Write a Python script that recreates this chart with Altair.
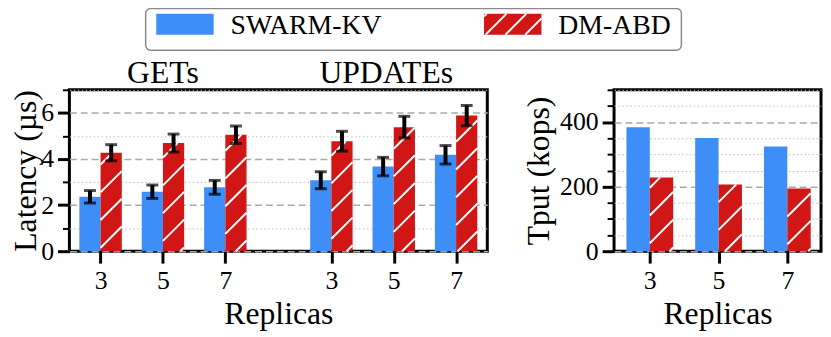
import altair as alt
import pandas as pd
import numpy as np

# ---------------- data ----------------
REPLICAS = [3, 5, 7]
SERIES = ["SWARM-KV", "DM-ABD"]
COLORS = ["#3d8ef7", "#d11616"]
OPS = ["GETs", "UPDATEs"]

GET_SWARM = [2.36, 2.58, 2.77]
GET_SWARM_ERR = [0.27, 0.29, 0.30]
GET_DM = [4.27, 4.69, 5.05]
GET_DM_ERR = [0.35, 0.39, 0.38]
UPD_SWARM = [3.08, 3.67, 4.18]
UPD_SWARM_ERR = [0.37, 0.40, 0.40]
UPD_DM = [4.77, 5.38, 5.88]
UPD_DM_ERR = [0.43, 0.47, 0.44]

TPUT_SWARM = [384, 351, 324]
TPUT_DM = [228, 207, 194]

Y_LAT_TICKS = list(range(0, 8))
Y_TPUT_TICKS = list(range(0, 501, 50))

# ---------------- layout / style ----------------
FONT = "Liberation Serif"
WL, WR, H = 422, 209, 163
GAP = 128
XL_DOM = [-0.5, 6.2]
XR_DOM = [-0.52, 2.49]
YL_DOM = [0, 7]
YR_DOM = [0, 500]
GROUP_SHIFT = 3.7
BW = 0.34
HATCH_SP = 28
VIEW_X0, VIEW_Y1 = 68, 253  # page position of left view's bottom-left corner

kxl = WL / (XL_DOM[1] - XL_DOM[0])
kyl = H / (YL_DOM[1] - YL_DOM[0])
kxr = WR / (XR_DOM[1] - XR_DOM[0])
kyr = H / (YR_DOM[1] - YR_DOM[0])


def hatch_px(X0, X1, Y0, Y1, s, phase=0.0):
    segs = []
    n0 = int(np.floor((Y0 - X1 - phase) / s))
    n1 = int(np.ceil((Y1 - X0 - phase) / s))
    for n in range(n0, n1 + 1):
        c = n * s + phase
        xs = max(X0, Y0 - c)
        xe = min(X1, Y1 - c)
        if xe - xs > 1.0:
            segs.append((xs, xs + c, xe, xe + c))
    return segs


def hatch_data(df, kx, ky, dom0, s):
    rows = []
    for _, r in df.iterrows():
        X0, X1 = (r.x - dom0) * kx, (r.x2 - dom0) * kx
        Y0, Y1 = 0.0, r.y * ky
        for a, b, c, d in hatch_px(X0, X1, Y0, Y1, s):
            rows.append(dict(x=a / kx + dom0, y=b / ky, x2=c / kx + dom0, y2=d / ky))
    return pd.DataFrame(rows)


# latency table
rows = []
for gi, (sv, se, dv, de) in enumerate([(GET_SWARM, GET_SWARM_ERR, GET_DM, GET_DM_ERR),
                                      (UPD_SWARM, UPD_SWARM_ERR, UPD_DM, UPD_DM_ERR)]):
    for i, r in enumerate(REPLICAS):
        pos = gi * GROUP_SHIFT + i
        rows.append(dict(series=SERIES[0], x=pos - BW, x2=pos, y=sv[i], err=se[i]))
        rows.append(dict(series=SERIES[1], x=pos, x2=pos + BW, y=dv[i], err=de[i]))
lat = pd.DataFrame(rows)
lat["y0"] = 0.0
lat["xc"] = (lat.x + lat.x2) / 2
lat["lo"] = lat.y - lat.err
lat["hi"] = lat.y + lat.err
lat_hatch = hatch_data(lat[lat.series == SERIES[1]], kxl, kyl, XL_DOM[0], HATCH_SP)

# throughput table
rows = []
for i, r in enumerate(REPLICAS):
    rows.append(dict(series=SERIES[0], x=i - BW, x2=i, y=TPUT_SWARM[i]))
    rows.append(dict(series=SERIES[1], x=i, x2=i + BW, y=TPUT_DM[i]))
tp = pd.DataFrame(rows)
tp["y0"] = 0.0
tp_hatch = hatch_data(tp[tp.series == SERIES[1]], kxr, kyr, XR_DOM[0], HATCH_SP)

pos_l = [gi * GROUP_SHIFT + i for gi in range(len(OPS)) for i in range(len(REPLICAS))]
lab_l = [str(r) for _ in OPS for r in REPLICAS]
pos_r = list(range(len(REPLICAS)))
lab_r = [str(r) for r in REPLICAS]

# ---------------- legend geometry (page px -> left-chart data) ----------------
def lx(px):
    return (px - VIEW_X0) / kxl + XL_DOM[0]


def ly(py):
    return (VIEW_Y1 - py) / kyl


LEG_BOX = (145, 8, 686, 50)
SW_X = [155.7, 486.7]
SW_W, SW_Y0, SW_Y1 = 58, 13.3, 34.3
TXT_DX, TXT_BASE = 75, 34

leg_box = pd.DataFrame([dict(x=lx(LEG_BOX[0]), x2=lx(LEG_BOX[2]), y=ly(LEG_BOX[1]), y2=ly(LEG_BOX[3]))])
leg = pd.DataFrame([dict(series=s, x=lx(SW_X[i]), x2=lx(SW_X[i] + SW_W), y=ly(SW_Y0), y2=ly(SW_Y1),
                         tx=lx(SW_X[i] + TXT_DX), ty=ly(TXT_BASE)) for i, s in enumerate(SERIES)])
lh = []
X0, X1 = SW_X[1] - VIEW_X0, SW_X[1] + SW_W - VIEW_X0
Y0, Y1 = VIEW_Y1 - SW_Y1, VIEW_Y1 - SW_Y0
for a, b, c, d in hatch_px(X0, X1, Y0, Y1, 20, phase=(Y0 - (488.3 - VIEW_X0)) % 20):
    lh.append(dict(x=a / kxl + XL_DOM[0], y=b / kyl, x2=c / kxl + XL_DOM[0], y2=d / kyl))
leg_hatch = pd.DataFrame(lh)

op_lab = pd.DataFrame([dict(op=OPS[0], x=1.0, y=7 + 7 / kyl),
                       dict(op=OPS[1], x=GROUP_SHIFT + 1 - 0.12, y=7 + 7 / kyl)])

# ---------------- encodings ----------------
AX = dict(labelFont=FONT, labelFontSize=26, labelColor="black", titleFont=FONT,
          titleFontSize=32, titleFontWeight="normal", titleColor="black",
          tickColor="black", domain=False, labelAngle=0)


def cond(test, a, b):
    return {"condition": {"test": test, "value": a}, "value": b}


xl_s = alt.Scale(domain=XL_DOM, nice=False, zero=False)
yl_s = alt.Scale(domain=YL_DOM, nice=False)
xr_s = alt.Scale(domain=XR_DOM, nice=False, zero=False)
yr_s = alt.Scale(domain=YR_DOM, nice=False)
col = alt.Color("series:N", scale=alt.Scale(domain=SERIES, range=COLORS), legend=None)

xl_axis = alt.Axis(values=pos_l, title="Replicas", grid=False, tickSize=12, tickWidth=3,
                   labelPadding=5, titlePadding=5,
                   labelExpr=f"{lab_l}[indexof({pos_l}, datum.value)]", **AX)
even = "datum.value % 2 == 0"
yl_axis = alt.Axis(values=Y_LAT_TICKS, title="Latency (µs)", grid=True,
                   labelExpr=f"{even} ? datum.label : ''",
                   tickSize=cond(even, 12, 7), tickWidth=cond(even, 3, 2),
                   gridDash=cond(even, [7, 4], [1.5, 2.5]),
                   gridColor=cond(even, "#aaaaaa", "#bbbbbb"),
                   gridWidth=cond(even, 1.5, 1), labelPadding=4, titlePadding=-2, **AX)
xr_axis = alt.Axis(values=pos_r, title="Replicas", grid=False, tickSize=12, tickWidth=3,
                   labelPadding=5, titlePadding=5,
                   labelExpr=f"{lab_r}[indexof({pos_r}, datum.value)]", **AX)
maj = "datum.value % 200 == 0"
yr_axis = alt.Axis(values=Y_TPUT_TICKS, title="Tput (kops)", grid=True,
                   labelExpr=f"{maj} ? datum.label : ''",
                   tickSize=cond(maj, 12, 7), tickWidth=cond(maj, 3, 2),
                   gridDash=cond(maj, [7, 4], [1.5, 2.5]),
                   gridColor=cond(maj, "#aaaaaa", "#bbbbbb"),
                   gridWidth=cond(maj, 1.5, 1), labelPadding=4, titlePadding=4, **AX)


def XL(f):
    return alt.X(f, scale=xl_s, axis=xl_axis)


def YL(f):
    return alt.Y(f, scale=yl_s, axis=yl_axis)


def XR(f):
    return alt.X(f, scale=xr_s, axis=xr_axis)


def YR(f):
    return alt.Y(f, scale=yr_s, axis=yr_axis)


# ---------------- left chart ----------------
bars_l = alt.Chart(lat).mark_rect().encode(x=XL("x:Q"), x2="x2:Q", y=YL("y:Q"), y2="y0:Q", color=col)
hatch_l = alt.Chart(lat_hatch).mark_rule(color="white", strokeWidth=2).encode(
    x=XL("x:Q"), x2="x2:Q", y=YL("y:Q"), y2="y2:Q")
err_l = alt.Chart(lat).mark_rule(color="black", strokeWidth=4).encode(
    x=XL("xc:Q"), y=YL("lo:Q"), y2="hi:Q")
cap_lo = alt.Chart(lat).mark_tick(color="black", orient="horizontal", size=12, thickness=3).encode(
    x=XL("xc:Q"), y=YL("lo:Q"))
cap_hi = alt.Chart(lat).mark_tick(color="black", orient="horizontal", size=12, thickness=3).encode(
    x=XL("xc:Q"), y=YL("hi:Q"))
ops_t = alt.Chart(op_lab).mark_text(font=FONT, fontSize=32, color="black", baseline="alphabetic").encode(
    x=XL("x:Q"), y=YL("y:Q"), text="op:N")
box = alt.Chart(leg_box).mark_rect(fill="white", stroke="#8a8a8a", strokeWidth=1.5, cornerRadius=5).encode(
    x=XL("x:Q"), x2="x2:Q", y=YL("y:Q"), y2="y2:Q")
sw = alt.Chart(leg).mark_rect().encode(x=XL("x:Q"), x2="x2:Q", y=YL("y:Q"), y2="y2:Q", color=col)
sw_h = alt.Chart(leg_hatch).mark_rule(color="white", strokeWidth=2).encode(
    x=XL("x:Q"), x2="x2:Q", y=YL("y:Q"), y2="y2:Q")
sw_t = alt.Chart(leg).mark_text(font=FONT, fontSize=28, color="black", align="left",
                                baseline="alphabetic").encode(
    x=XL("tx:Q"), y=YL("ty:Q"), text="series:N")

left = alt.layer(bars_l, hatch_l, err_l, cap_lo, cap_hi, ops_t, box, sw, sw_h, sw_t).properties(
    width=WL, height=H)

# ---------------- right chart ----------------
bars_r = alt.Chart(tp).mark_rect().encode(x=XR("x:Q"), x2="x2:Q", y=YR("y:Q"), y2="y0:Q", color=col)
hatch_r = alt.Chart(tp_hatch).mark_rule(color="white", strokeWidth=2).encode(
    x=XR("x:Q"), x2="x2:Q", y=YR("y:Q"), y2="y2:Q")
right = alt.layer(bars_r, hatch_r).properties(width=WR, height=H)

chart = alt.hconcat(left, right, spacing=GAP, bounds="flush").properties(
    padding={"top": -4, "left": 0, "right": 0, "bottom": 0}
).configure(font=FONT).configure_view(stroke="black", strokeWidth=3)

chart.save("out.html", embed_options={"renderer": "svg", "actions": False})
